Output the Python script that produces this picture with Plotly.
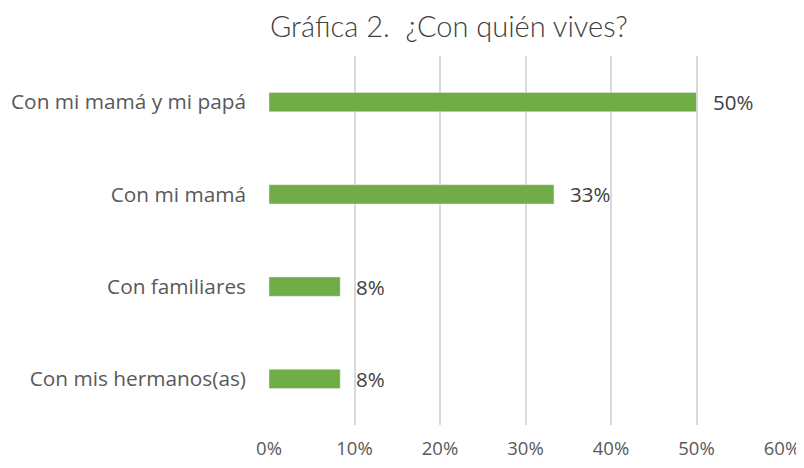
import plotly.graph_objects as go

categorias = ['Con mis hermanos(as)', 'Con familiares', 'Con mi mamá', 'Con mi mamá y mi papá']
porcentajes = [8.33, 8.33, 33.33, 50.0]
etiquetas = ['8%', '8%', '33%', '50%']
ticks = [0, 10, 20, 30, 40, 50, 60]
tick_labels = ['0%', '10%', '20%', '30%', '40%', '50%', '60%']

fig = go.Figure(go.Bar(
	x=porcentajes, y=categorias, orientation='h',
	marker=dict(color='#70AD47'), width=0.21,
	hoverinfo='skip'
))

for x, y, t in zip(porcentajes, categorias, etiquetas):
	fig.add_annotation(x=x, y=y, text=t, showarrow=False, xanchor='left', xshift=14,
		font=dict(family='Open Sans', size=20.5, color='#404040'))

# la pagina tiene 8px de margen en el body, asi que la figura es 8px mas chica
fig.update_layout(
	width=796, height=460,
	margin=dict(l=261, r=22, t=48, b=43),
	paper_bgcolor='white', plot_bgcolor='white',
	showlegend=False,
	title=dict(text='Gráfica 2.  ¿Con quién vives?', x=0.554, xanchor='center', y=0.96, yanchor='middle',
		font=dict(family='Lato Light, Lato', size=29, color='#404040')),
	xaxis=dict(range=[0, 60], tickvals=ticks, ticktext=tick_labels, showgrid=True,
		gridcolor='#D9D9D9', gridwidth=1.5, zeroline=False, ticks='', ticklen=0,
		automargin=False, ticklabelstandoff=10,
		tickfont=dict(family='Open Sans', size=18.5, color='#595959'), showline=False),
	yaxis=dict(showgrid=False, zeroline=False, ticks='', showline=False, automargin=False,
		ticklabelstandoff=22,
		tickfont=dict(family='Open Sans', size=20.8, color='#595959'))
)
fig.write_html('out.html')
